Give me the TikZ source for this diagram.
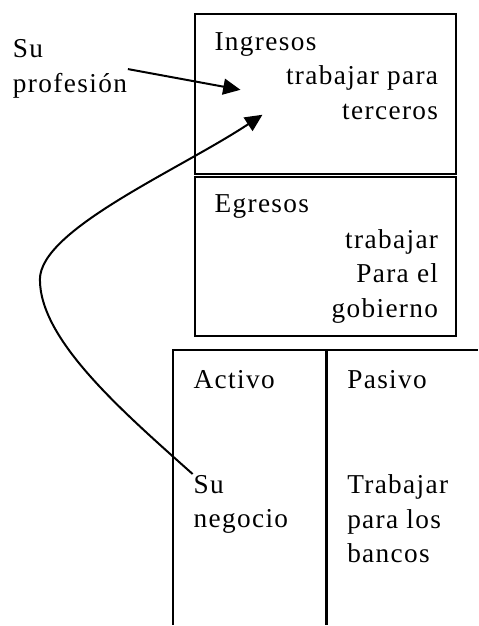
\documentclass[tikz,border=0pt]{standalone}
\usepackage{fontspec}
\setmainfont[LetterSpace=5]{Liberation Serif}
\usetikzlibrary{arrows.meta}
\tikzset{every picture/.style={line width=1.5pt}}

\begin{document}
\begin{tikzpicture}[x=0.75pt,y=0.75pt,yscale=-1,xscale=1,
	txt/.style={inner sep=0pt,font=\fontsize{20.5}{25.9}\selectfont},
	flecha/.style={-{Triangle[length=13pt,width=12pt]}}]
		%set diagram left start at 0, and has height of 626
		\path (0,0) rectangle (479,626);
		
		%Shape: Rectangle [Ingresos]
		\draw (195,14) rectangle (457,174) ;
		
		%Shape: Rectangle [Egresos]
		\draw (195,177) rectangle (457,337) ;
		
		%Straight Lines [balance]
		\draw    (173,626) -- (173,351) -- (479,351) ;
		
		%Straight Lines [balance]
		\draw [line width=2pt]   (327,351) -- (327,626) ;
		
		% Text Node
		\node (prof) [txt,anchor=north west,align=left] at (12,39) {Su\\profesión};
		% Text Node
		\node (ing) [txt,anchor=north west,align=left] at (214,32) {Ingresos};
		% Text Node
		\node (terceros) [txt,anchor=north east,align=right] at (440,65) {trabajar para\\terceros};
		% Text Node
		\node (egr) [txt,anchor=north west,align=left] at (214,194) {Egresos};
		% Text Node
		\node (gobierno) [txt,anchor=north east,align=right] at (440,229) {trabajar\\Para el\\gobierno};
		% Text Node
		\node (activo) [txt,anchor=north west,align=left] at (193,370) {Activo};
		% Text Node
		\node (pasivo) [txt,anchor=north west,align=left] at (347,370) {Pasivo};
		% Text Node
		\node (neg) [txt,anchor=north west,align=left] at (193,475) {Su\\negocio};
		% Text Node
		\node (bancos) [txt,anchor=north west,align=left] at (347,475) {Trabajar\\para los\\bancos};
		
		\coordinate (ingA) at (241,90);
		\coordinate (ingB) at (263,115);
		
		%Straight Lines [profesion]
		\draw [flecha]   (prof.east) -- (ingA) ;
		
		%Curve Lines [negocio]
		\draw [flecha]   (neg.north west) .. controls (120,410) and (40,340) .. (40,280) .. controls (40,230) and (180,170) .. (ingB) ;
		
\end{tikzpicture}
\end{document}
